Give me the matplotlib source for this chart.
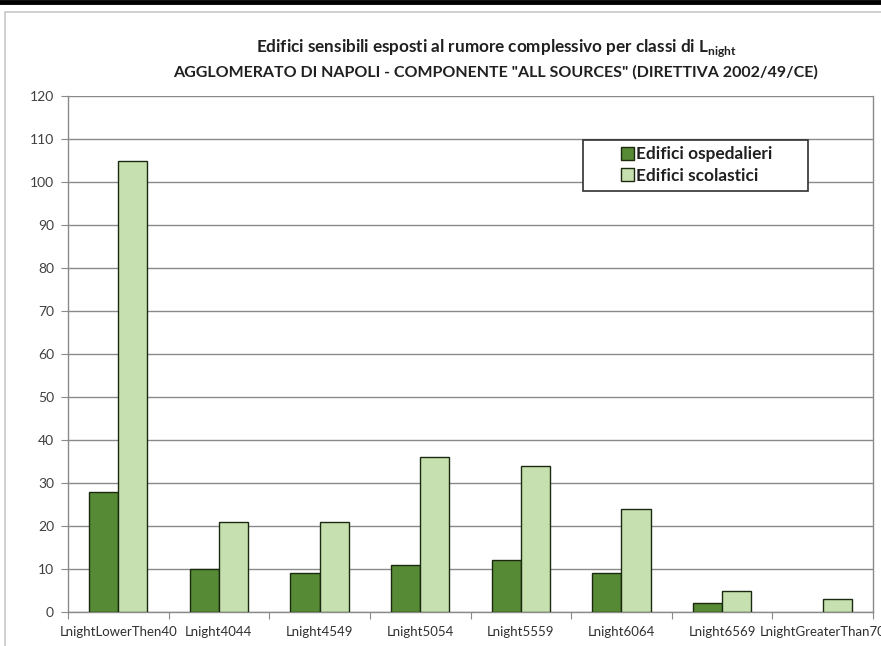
import numpy as np
import matplotlib
matplotlib.use("Agg")
from matplotlib import pyplot as plt
from matplotlib.patches import Rectangle
from matplotlib.lines import Line2D

# Data
categories = ["LnightLowerThen40", "Lnight4044", "Lnight4549", "Lnight5054",
              "Lnight5559", "Lnight6064", "Lnight6569", "LnightGreaterThan70"]
ospedalieri = [28, 10, 9, 11, 12, 9, 2, 0]
scolastici = [105, 21, 21, 36, 34, 24, 5, 3]
series_names = ["Edifici ospedalieri", "Edifici scolastici"]

plt.rcParams['font.family'] = ['Lato', 'DejaVu Sans']
plt.rcParams['mathtext.fontset'] = 'custom'
plt.rcParams['mathtext.rm'] = 'Lato'
plt.rcParams['mathtext.bf'] = 'Lato:bold'

dark = '#568a34'
light = '#c6e0b0'
grid_col = '#8a8a8a'

W, H = 881, 646
fig = plt.figure(figsize=(W/100, H/100), dpi=100)

# page line and chart frame
fig.add_artist(Line2D([0, 1], [1 - 2/H, 1 - 2/H], color='black', lw=3.5,
                      transform=fig.transFigure))
fig.add_artist(Rectangle((5/W, -0.01), 1.0, 1 - 12/H + 0.01, transform=fig.transFigure,
                         fill=False, edgecolor='#c8c8c8', lw=1.2))

ax = fig.add_axes([68/W, 34/H, 805/W, 516/H])

x = np.arange(len(categories)) + 0.5
w = 0.29
b1 = ax.bar(x - w/2, ospedalieri, w, color=dark, edgecolor='#1a2a10', lw=1.0,
            label=series_names[0], zorder=3)
b2 = ax.bar(x + w/2, scolastici, w, color=light, edgecolor='#1a2a10', lw=1.0,
            label=series_names[1], zorder=3)
# empty bars show no outline
for p in list(b1) + list(b2):
    if p.get_height() == 0:
        p.set_linewidth(0)

ax.set_xlim(0, len(categories))
ax.set_ylim(0, 120)
ax.set_yticks(np.arange(0, 121, 10))
ax.yaxis.grid(True, color=grid_col, lw=1.0, zorder=0)
ax.tick_params(axis='y', labelsize=10, colors='#404040', length=5, direction='out',
               color=grid_col, pad=5)
ax.set_xticks(np.arange(0, len(categories) + 1))
ax.set_xticklabels([])
ax.set_xticks(x, minor=True)
ax.set_xticklabels(categories, minor=True, fontsize=9.5, color='#303030')
ax.tick_params(axis='x', which='major', length=5, color=grid_col, direction='out')
ax.tick_params(axis='x', which='minor', length=0, pad=10)
for s in ['left', 'bottom', 'right']:
    ax.spines[s].set_color(grid_col)
    ax.spines[s].set_linewidth(1.0)
ax.spines['top'].set_visible(False)

fig.text(496/W, 1 - 48/H,
         r"Edifici sensibili esposti al rumore complessivo per classi di L$_{\mathbf{night}}$",
         ha='center', va='center', fontsize=12.3, fontweight='bold', color='#202020')
fig.text(496/W, 1 - 72/H,
         'AGGLOMERATO DI NAPOLI - COMPONENTE "ALL SOURCES" (DIRETTIVA 2002/49/CE)',
         ha='center', va='center', fontsize=11.5, fontweight='bold', color='#202020')

# legend: box drawn separately, entries placed inside it
fig.add_artist(Rectangle((583/W, 1 - 191/H), 225/W, 51/H, transform=fig.transFigure,
                         facecolor='white', edgecolor='#303030', lw=1.2, zorder=4))
leg = fig.legend(handles=[b1, b2], labels=series_names, loc='center left',
                 bbox_to_anchor=(621/W, 1 - 165/H), frameon=False,
                 prop={'weight': 'bold', 'size': 12.4}, handlelength=0.75,
                 handleheight=0.75, handletextpad=0.12, borderpad=0,
                 labelspacing=0.3, borderaxespad=0)
leg.set_zorder(5)
for t in leg.get_texts():
    t.set_color('#202020')

fig.savefig('out.png', dpi=100)
